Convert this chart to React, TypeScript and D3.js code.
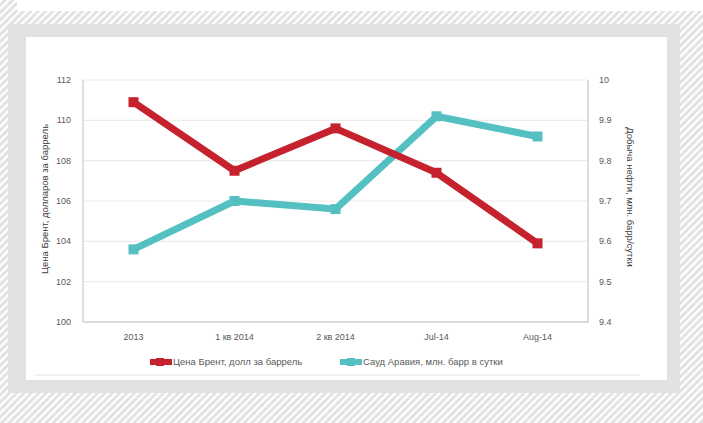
import React from "react";
import * as d3 from "d3";

const categories = ["2013", "1 кв 2014", "2 кв 2014", "Jul-14", "Aug-14"];
const brentValues = [110.9, 107.5, 109.6, 107.4, 103.9];
const saudiValues = [9.58, 9.7, 9.68, 9.91, 9.86];
const leftTicks = [100, 102, 104, 106, 108, 110, 112];
const rightTicks = [9.4, 9.5, 9.6, 9.7, 9.8, 9.9, 10];
const brentLabel = "Цена Брент, долл за баррель";
const saudiLabel = "Сауд Аравия, млн. барр в сутки";
const leftTitle = "Цена Брент, долларов за баррель";
const rightTitle = "Добыча нефти, млн. барр/сутки";

const W = 703;
const H = 423;
const RED = "#c6222d";
const CYAN = "#55c0c2";
const FONT = "'Liberation Sans', Arial, sans-serif";

export default function App() {
  const left = 83, right = 588, top = 80, bottom = 322;
  const x = d3.scalePoint<string>().domain(categories).range([left, right]).padding(0.5);
  const yL = d3.scaleLinear().domain([100, 112]).range([bottom, top]);
  const yR = d3.scaleLinear().domain([9.4, 10]).range([bottom, top]);

  const brentData = categories.map((c, i) => ({ c, v: brentValues[i] }));
  const saudiData = categories.map((c, i) => ({ c, v: saudiValues[i] }));

  const lineL = d3.line<{ c: string; v: number }>().x((d) => x(d.c)!).y((d) => yL(d.v));
  const lineR = d3.line<{ c: string; v: number }>().x((d) => x(d.c)!).y((d) => yR(d.v));

  const ms = 10;

  return (
    <svg
      width={W}
      height={H}
      style={{ position: "absolute", left: 0, top: 0, display: "block" }}
      fontFamily={FONT}
    >
      <defs>
        <pattern id="hatch" width="5.2" height="5.2" patternUnits="userSpaceOnUse" patternTransform="rotate(45)">
          <rect width="5.2" height="5.2" fill="#e2e2e2" />
          <rect x="0" y="0" width="2.3" height="5.2" fill="#ffffff" />
        </pattern>
      </defs>
      <rect x={0} y={0} width={W} height={H} fill="url(#hatch)" />
      <rect x={17} y={0} width={W - 17} height={11} fill="#ffffff" />
      <rect x={8} y={24} width={672} height={369} fill="#e2e2e2" />
      <rect x={26} y={37} width={641} height={343} fill="#ffffff" />

      {/* gridlines */}
      {leftTicks.map((t) => (
        <line key={"g" + t} x1={left} x2={right} y1={yL(t)} y2={yL(t)} stroke="#ebebeb" strokeWidth={1.2} />
      ))}
      {/* axes */}
      <line x1={left} x2={left} y1={top} y2={bottom} stroke="#c8c8c8" strokeWidth={1.2} />
      <line x1={right} x2={right} y1={top} y2={bottom} stroke="#c8c8c8" strokeWidth={1.2} />
      <line x1={left} x2={right} y1={bottom} y2={bottom} stroke="#c0c0c0" strokeWidth={1.2} />

      {/* left ticks */}
      {leftTicks.map((t) => (
        <text key={"l" + t} x={71} y={yL(t)} dy="0.35em" textAnchor="end" fontSize={9} fill="#595959">
          {t}
        </text>
      ))}
      {rightTicks.map((t) => (
        <text key={"r" + t} x={599} y={yR(t)} dy="0.35em" textAnchor="start" fontSize={9} fill="#595959">
          {d3.format("")(t)}
        </text>
      ))}
      {categories.map((c) => (
        <text key={"x" + c} x={x(c)!} y={337} dy="0.35em" textAnchor="middle" fontSize={9} fill="#595959">
          {c}
        </text>
      ))}

      <text transform={`translate(45,199) rotate(-90)`} textAnchor="middle" dy="0.35em" fontSize={9.5} fill="#404040">
        {leftTitle}
      </text>
      <text transform={`translate(630,197) rotate(90)`} textAnchor="middle" dy="0.35em" fontSize={9.5} fill="#404040">
        {rightTitle}
      </text>

      {/* series */}
      <path d={lineR(saudiData)!} fill="none" stroke={CYAN} strokeWidth={7} strokeLinejoin="round" />
      {saudiData.map((d) => (
        <rect key={"sm" + d.c} x={x(d.c)! - ms / 2} y={yR(d.v) - ms / 2} width={ms} height={ms} fill={CYAN} />
      ))}
      <path d={lineL(brentData)!} fill="none" stroke={RED} strokeWidth={7} strokeLinejoin="round" />
      {brentData.map((d) => (
        <rect key={"bm" + d.c} x={x(d.c)! - ms / 2} y={yL(d.v) - ms / 2} width={ms} height={ms} fill={RED} />
      ))}

      {/* legend */}
      <line x1={150} x2={172} y1={362} y2={362} stroke={RED} strokeWidth={6} />
      <rect x={156} y={358} width={8} height={8} fill={RED} />
      <text x={173} y={362} dy="0.35em" fontSize={9.5} fill="#595959">{brentLabel}</text>
      <line x1={340} x2={362} y1={362} y2={362} stroke={CYAN} strokeWidth={6} />
      <rect x={347} y={358} width={8} height={8} fill={CYAN} />
      <text x={363} y={362} dy="0.35em" fontSize={9.5} fill="#595959">{saudiLabel}</text>

      <line x1={35} x2={640} y1={375} y2={375} stroke="#eeeeee" strokeWidth={1.5} />
    </svg>
  );
}
